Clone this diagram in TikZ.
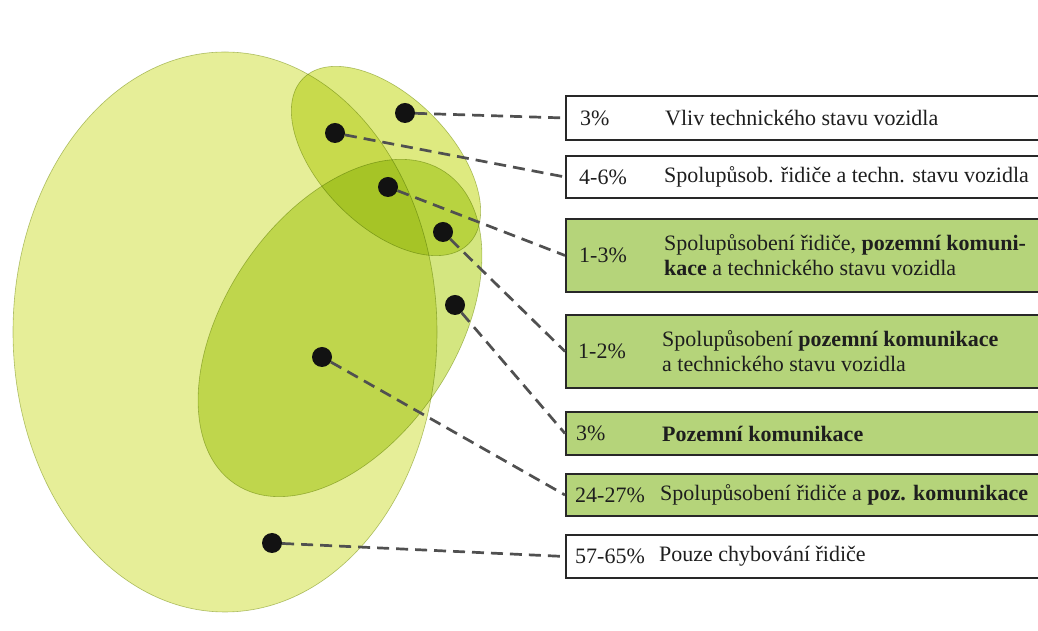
\documentclass[tikz,border=0pt]{standalone}
\usepackage{fontspec}
\setmainfont{Liberation Serif}
\definecolor{drivercol}{RGB}{230,238,152}
\definecolor{roadcol}{RGB}{212,230,128}
\definecolor{techcol}{RGB}{222,234,128}
\definecolor{ellline}{RGB}{185,198,130}
\definecolor{dashgray}{RGB}{80,80,80}
\definecolor{boxline}{RGB}{40,40,40}
\definecolor{boxgreen}{RGB}{181,212,122}
\definecolor{inkcol}{RGB}{30,30,30}
\newcommand{\txtsize}{\fontsize{22}{25}\selectfont}
\begin{document}
\begin{tikzpicture}[x=1pt,y=1pt,
  ell/.style={draw=ellline, line width=0.6pt},
  dot/.style={circle, fill=black!93, inner sep=0pt, minimum size=20pt},
  conn/.style={draw=dashgray, line width=2.7pt, dash pattern=on 12pt off 7pt},
  box/.style={draw=boxline, line width=1.8pt, rectangle, anchor=west, minimum width=482pt, inner sep=0pt},
  wbox/.style={box, fill=white},
  gbox/.style={box, fill=boxgreen},
  pct/.style={anchor=west, inner sep=0pt, font=\txtsize, text=inkcol},
  desc/.style={anchor=west, inner sep=0pt, align=left, font=\txtsize, text=inkcol},
]
\useasboundingbox (0,0) rectangle (1038,631);
\fill[white] (0,0) rectangle (1038,631);
% ellipses (printed inks: multiply)
\begin{scope}[blend group=multiply]
\path[ell, fill=drivercol] (225,299) ellipse [x radius=212, y radius=280];
\path[ell, fill=roadcol, rotate around={56:(340,303)}] (340,303) ellipse [x radius=188, y radius=115];
\path[ell, fill=techcol, rotate around={-45:(386,470)}] (386,470) ellipse [x radius=117, y radius=65];
\end{scope}
% dots
\node[dot] (d1) at (405,518) {};
\node[dot] (d2) at (335,498) {};
\node[dot] (d3) at (388,444) {};
\node[dot] (d4) at (443,399) {};
\node[dot] (d5) at (455,326) {};
\node[dot] (d6) at (322,274) {};
\node[dot] (d7) at (272,88) {};
\begin{scope}
\clip (0,0) rectangle (1038,631);
% boxes
\node[wbox, minimum height=44pt] (b1) at (565,513) {};
\node[wbox, minimum height=42pt] (b2) at (565,454) {};
\node[gbox, minimum height=73pt] (b3) at (565,375.5) {};
\node[gbox, minimum height=73pt] (b4) at (565,279.5) {};
\node[gbox, minimum height=43pt] (b5) at (565,197.5) {};
\node[gbox, minimum height=42pt] (b6) at (565,136) {};
\node[wbox, minimum height=43pt] (b7) at (565,74.5) {};
\end{scope}
% connectors
\draw[conn] (d1) -- (b1.west);
\draw[conn] (d2) -- (b2.west);
\draw[conn] (d3) -- (b3.west);
\draw[conn] (d4) -- (b4.west);
\draw[conn] (d5) -- (b5.west);
\draw[conn] (d6) -- (b6.west);
\draw[conn] (d7) -- (b7.west);
% texts
\node[pct] (p1) at (580,513) {3\%};
\node[desc] (t1) at (665,513) {Vliv technického stavu vozidla};
\node[pct] (p2) at (579,454) {4-6\%};
\node[desc] (t2) at (664,454) {Spolupůsob. řidiče a techn. stavu vozidla};
\node[pct] (p3) at (579,375.5) {1-3\%};
\node[desc] (t3) at (664,375.5) {Spolupůsobení řidiče, \textbf{pozemní komuni-}\\\textbf{kace} a technického stavu vozidla};
\node[pct] (p4) at (578,279.5) {1-2\%};
\node[desc] (t4) at (662,279.5) {Spolupůsobení \textbf{pozemní komunikace}\\a technického stavu vozidla};
\node[pct] (p5) at (576,197.5) {3\%};
\node[desc] (t5) at (662,197.5) {\textbf{Pozemní komunikace}};
\node[pct] (p6) at (575,136) {24-27\%};
\node[desc] (t6) at (660,136) {Spolupůsobení řidiče a \textbf{poz. komunikace}};
\node[pct] (p7) at (575,74.5) {57-65\%};
\node[desc] (t7) at (659,74.5) {Pouze chybování řidiče};
\end{tikzpicture}
\end{document}
